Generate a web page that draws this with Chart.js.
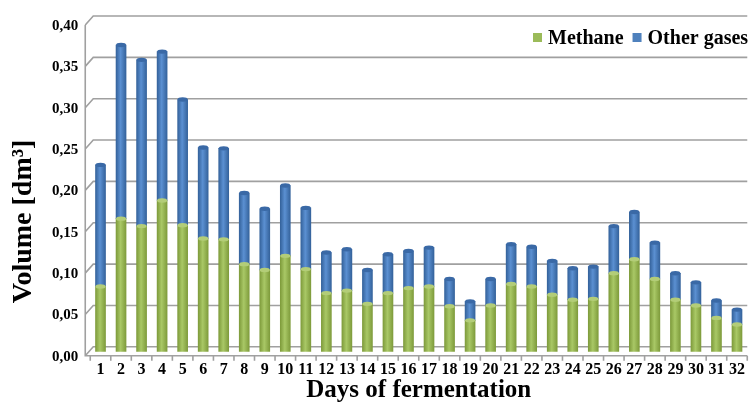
<!DOCTYPE html>
<html>
<head>
<meta charset="utf-8">
<script src="https://cdn.jsdelivr.net/npm/chart.js"></script>
<style>
  html, body { margin: 0; padding: 0; background: #fff; }
  #wrap { width: 753px; height: 403px; }
</style>
</head>
<body>
<div id="wrap"><canvas id="gasChart" width="753" height="403"></canvas></div>
<script>
  /*** datos ***/
  const days = ['1','2','3','4','5','6','7','8','9','10','11','12','13','14','15','16',
                '17','18','19','20','21','22','23','24','25','26','27','28','29','30','31','32'];
  const methane = [0.079,0.161,0.152,0.183,0.153,0.137,0.136,0.106,0.099,0.116,0.100,0.071,0.074,0.058,0.071,0.077,
                   0.079,0.055,0.038,0.056,0.082,0.079,0.069,0.063,0.064,0.095,0.112,0.088,0.063,0.056,0.041,0.033];
  const otherGases = [0.147,0.210,0.201,0.180,0.152,0.110,0.110,0.086,0.074,0.085,0.074,0.049,0.050,0.041,0.047,0.045,
                      0.047,0.033,0.023,0.032,0.048,0.048,0.041,0.038,0.039,0.057,0.057,0.044,0.032,0.028,0.021,0.018];
  const yMax = 0.40;
  const yStep = 0.05;
  const yTitle = 'Volume [dm³]';

  const serif = '"Liberation Serif", "Times New Roman", serif';
  const gridGray = 'rgb(160,160,160)';
  const seriesColors = ['#9bbb59', '#4f81bd'];

  /*** degradado horizontal para simular cilindros ***/
  function cylinder(edge, mid, flat){
    return (ctx) => {
      const chart = ctx.chart;
      if(!chart.chartArea || ctx.dataIndex === undefined){
        return flat;
      }
      const x = chart.scales.x.getPixelForValue(ctx.dataIndex);
      const g = chart.ctx.createLinearGradient(x - 5, 0, x + 5, 0);
      g.addColorStop(0, edge);
      g.addColorStop(0.45, mid);
      g.addColorStop(1, edge);
      return g;
    };
  }

  /*** pared en "3D", piso, tapas de cilindros, leyenda y titulo vertical ***/
  const wallPlugin = {
    id: 'wall',
    beforeDatasetsDraw(chart){
      const {ctx, chartArea, scales} = chart;
      const back = chartArea.left + 3, front = chartArea.left - 5;
      ctx.save();
      ctx.strokeStyle = gridGray;
      ctx.lineWidth = 1.6;
      ctx.beginPath();
      for(let v = 0; v <= yMax + 1e-9; v += yStep){
        const y = scales.y.getPixelForValue(v);
        ctx.moveTo(chartArea.right, y - 5);
        ctx.lineTo(back, y - 5);
        ctx.lineTo(front, y + 4);
      }
      // eje frontal y piso
      ctx.moveTo(front, scales.y.getPixelForValue(yMax) + 4);
      ctx.lineTo(front, chartArea.bottom + 4);
      ctx.lineTo(chartArea.right, chartArea.bottom + 4);
      // marcas del eje x
      const half = (scales.x.getPixelForValue(1) - scales.x.getPixelForValue(0)) / 2;
      for(let i = 0; i <= days.length; i++){
        const x = scales.x.getPixelForValue(0) - half + i * half * 2;
        ctx.moveTo(x, chartArea.bottom + 4);
        ctx.lineTo(x, chartArea.bottom + 9);
      }
      ctx.stroke();
      ctx.restore();
    },
    afterDatasetsDraw(chart){
      const {ctx, chartArea} = chart;
      ctx.save();
      [[0, '#b3cd78'], [1, '#3a69a6']].forEach(([i, color]) => {
        chart.getDatasetMeta(i).data.forEach(bar => {
          ctx.fillStyle = color;
          ctx.beginPath();
          ctx.ellipse(bar.x, bar.y, bar.width / 2, 2.2, 0, 0, Math.PI * 2);
          ctx.fill();
        });
      });
      // leyenda dentro del area
      ctx.font = 'bold 20px ' + serif;
      ctx.textBaseline = 'middle';
      let x = 533;
      const y = 38;
      chart.data.datasets.forEach((d, i) => {
        ctx.fillStyle = seriesColors[i];
        ctx.fillRect(x, y - 5, 9, 9);
        ctx.fillStyle = '#000';
        ctx.fillText(d.label, x + 15, y + 1);
        x += 15 + ctx.measureText(d.label).width + 9;
      });
      // titulo del eje y, algo bajo el centro como en el original
      ctx.translate(24, (chartArea.top + chartArea.bottom) / 2 + 35);
      ctx.rotate(-Math.PI / 2);
      ctx.font = 'bold 28px ' + serif;
      ctx.textAlign = 'center';
      ctx.fillText(yTitle, 0, 0);
      ctx.restore();
    }
  };

  const canvas = document.getElementById('gasChart');
  new Chart(canvas, {
    type: 'bar',
    data: {
      labels: days,
      datasets: [{
        label: 'Methane',
        data: methane,
        backgroundColor: cylinder('#7f9c3c', '#a9c866', seriesColors[0]),
        borderWidth: 0,
        barThickness: 10
      },{
        label: 'Other gases',
        data: otherGases,
        backgroundColor: cylinder('#35639c', '#5b90d2', seriesColors[1]),
        borderWidth: 0,
        barThickness: 10
      }]
    },
    options: {
      responsive: false,
      animation: false,
      layout: {
        padding: { top: -8, right: -5, left: 40, bottom: -3 }
      },
      scales: {
        x: {
          stacked: true,
          grid: { display: false, drawTicks: false },
          border: { display: false },
          ticks: {
            color: '#000',
            padding: 8,
            maxRotation: 0,
            autoSkip: false,
            font: { family: serif, size: 16, weight: 'bold' }
          },
          title: {
            display: true,
            text: 'Days of fermentation',
            color: '#000',
            padding: { top: -11, bottom: 0 },
            font: { family: serif, size: 25, weight: 'bold' }
          }
        },
        y: {
          stacked: true,
          min: 0,
          max: yMax,
          grid: { display: false, drawTicks: false },
          border: { display: false },
          ticks: {
            stepSize: yStep,
            color: '#000',
            padding: 12,
            labelOffset: 5,
            font: { family: serif, size: 15, weight: 'bold' },
            callback: (v) => Number(v).toFixed(2).replace('.', ',')
          }
        }
      },
      plugins: {
        legend: { display: false },
        tooltip: { enabled: false }
      }
    },
    plugins: [wallPlugin]
  });
</script>
</body>
</html>
